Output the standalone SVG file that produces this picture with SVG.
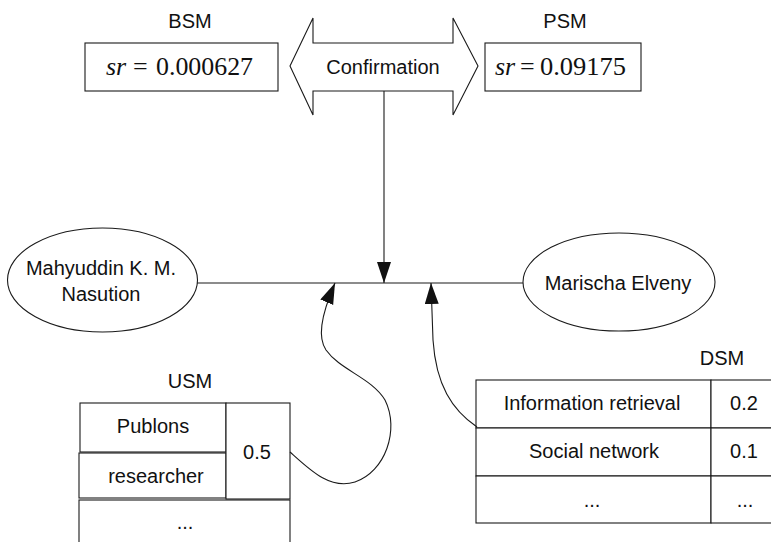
<svg xmlns="http://www.w3.org/2000/svg" width="771" height="542" viewBox="0 0 771 542">
  <style>
    .shape { fill: #ffffff; stroke: #1a1a1a; stroke-width: 1.1; }
    .edge { fill: none; stroke: #1a1a1a; stroke-width: 1.1; }
    .lbl { font-family: "Liberation Sans", Arial, Helvetica, sans-serif; font-size: 20px; fill: #111111; text-anchor: middle; }
    .eq { font-family: "Liberation Serif", "Times New Roman", serif; font-size: 26px; fill: #111111; }
    .eq .it { font-style: italic; }
  </style>
  <defs>
    <marker id="head" markerUnits="userSpaceOnUse" markerWidth="22" markerHeight="16" refX="21" refY="7" orient="auto">
      <path d="M0,0 L21,7 L0,14 Z" fill="#111111"/>
    </marker>
  </defs>

  <rect width="771" height="542" fill="#ffffff"/>

  <!-- BSM result -->
  <g id="bsm">
    <text class="lbl" x="190" y="28">BSM</text>
    <rect class="shape" x="85" y="43" width="193" height="48"/>
    <text class="eq" y="75"><tspan class="it" x="106">sr</tspan><tspan x="133">=</tspan><tspan x="156" textLength="97" lengthAdjust="spacingAndGlyphs">0.000627</tspan></text>
  </g>

  <!-- PSM result -->
  <g id="psm">
    <text class="lbl" x="565" y="28">PSM</text>
    <rect class="shape" x="485" y="43" width="156" height="48"/>
    <text class="eq" y="75"><tspan class="it" x="495">sr</tspan><tspan x="520">=</tspan><tspan x="540" textLength="86" lengthAdjust="spacingAndGlyphs">0.09175</tspan></text>
  </g>

  <!-- confirmation double arrow -->
  <g id="confirmation">
    <polygon class="shape" points="290,66 313,18 313,43 453,43 453,18 478,66 453,115 453,91 313,91 313,115"/>
    <text class="lbl" x="383" y="74">Confirmation</text>
  </g>

  <!-- people -->
  <g id="person-left">
    <ellipse class="shape" cx="102.5" cy="280" rx="95" ry="52"/>
    <text class="lbl" x="101" y="275">Mahyuddin K. M.</text>
    <text class="lbl" x="101" y="301">Nasution</text>
  </g>
  <g id="person-right">
    <ellipse class="shape" cx="619" cy="282" rx="96" ry="49"/>
    <text class="lbl" x="618" y="290">Marischa Elveny</text>
  </g>

  <!-- USM table -->
  <g id="usm">
    <text class="lbl" x="190" y="388">USM</text>
    <rect class="shape" x="80" y="403" width="146" height="49"/>
    <rect class="shape" x="79" y="453" width="147" height="45"/>
    <rect class="shape" x="226" y="403" width="64" height="96"/>
    <rect class="shape" x="79" y="500" width="211" height="50"/>
    <text class="lbl" x="153" y="433">Publons</text>
    <text class="lbl" x="156" y="483">researcher</text>
    <text class="lbl" x="257" y="459">0.5</text>
    <text class="lbl" x="185" y="529">...</text>
  </g>

  <!-- DSM table -->
  <g id="dsm">
    <text class="lbl" x="722" y="365">DSM</text>
    <rect class="shape" x="476" y="380" width="235" height="48"/>
    <rect class="shape" x="711" y="380" width="70" height="48"/>
    <rect class="shape" x="476" y="428" width="235" height="48"/>
    <rect class="shape" x="711" y="428" width="70" height="48"/>
    <rect class="shape" x="476" y="476" width="235" height="47"/>
    <rect class="shape" x="711" y="476" width="70" height="47"/>
    <text class="lbl" x="592" y="410">Information retrieval</text>
    <text class="lbl" x="744" y="410">0.2</text>
    <text class="lbl" x="594" y="458">Social network</text>
    <text class="lbl" x="744" y="458">0.1</text>
    <text class="lbl" x="592" y="507">...</text>
    <text class="lbl" x="745" y="507">...</text>
  </g>

  <!-- connectors -->
  <g id="connectors">
    <path class="edge" d="M197,283 L523,283"/>
    <path class="edge" d="M384,91 L384,283" marker-end="url(#head)"/>
    <path class="edge" d="M290,452 C310,470 330,490 355,482 C385,472 400,430 385,400 C372,378 340,370 326,350 C318,338 320,318 335,283" marker-end="url(#head)"/>
    <path class="edge" d="M477,427 C452,410 436,385 433,340 L431,283" marker-end="url(#head)"/>
  </g>
</svg>
